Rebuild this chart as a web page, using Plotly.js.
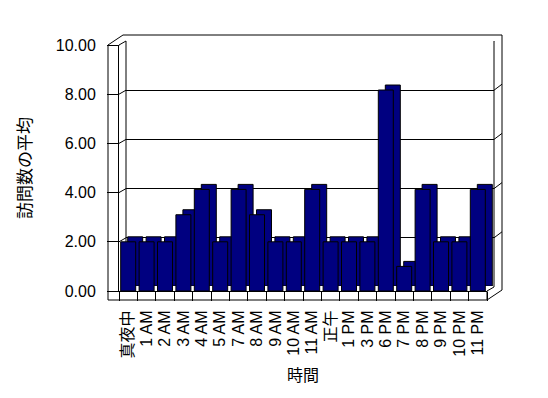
<!DOCTYPE html>
<html>
<head>
<meta charset="utf-8">
<script src="https://cdn.plot.ly/plotly-3.0.1.min.js"></script>
<style>html,body{margin:0;padding:0;background:#fff;}#chart{width:548px;height:398px;}</style>
</head>
<body>
<div id="chart"></div>
<script>
// ---- data ----
const categories = ['真夜中','1 AM','2 AM','3 AM','4 AM','5 AM','7 AM','8 AM','9 AM','10 AM','11 AM','正午','1 PM','3 PM','6 PM','7 PM','8 PM','9 PM','10 PM','11 PM'];
const avgVisits = [2,2,2,3.1,4.13,2,4.13,3.1,2,2,4.13,2,2,2,8.17,1,4.13,2,2,4.13];
const yTicks = [0,2,4,6,8,10];
const xTitle = '時間';
const yTitle = '訪問数の平均';

// ---- geometry helpers (pixels -> paper) ----
const W = 548, H = 398;
const fx = x => x / W;
const fy = y => 1 - y / H;
const FL = 119, FR = 487, FB = 291, FT = 45;          // front plane
const pxPerUnit = (FB - FT) / 10;
const GX = 7, GY = 4;                                   // back wall offset
const DX = 7, DY = 5;                                   // bar depth offset
const OX = 15, OY = 10;                                 // outer box depth
const FLOOR = 300, WALLL = 108;

const font = "'Liberation Sans', Arial, 'Noto Sans CJK JP', sans-serif";
const navy = '#000080';

const traces = [
  { // back wall grid subplot (no visible marks)
    type: 'scatter', mode: 'markers', x: categories, y: avgVisits,
    marker: {opacity: 0}, xaxis: 'x', yaxis: 'y', hoverinfo: 'skip', showlegend: false
  },
  { // bar depth (top & side faces)
    type: 'bar', x: categories, y: avgVisits, xaxis: 'x2', yaxis: 'y2',
    marker: {color: navy, line: {color: '#000', width: 1}}, showlegend: false
  },
  { // bar front faces
    type: 'bar', x: categories, y: avgVisits, xaxis: 'x3', yaxis: 'y3',
    marker: {color: navy, line: {color: '#000', width: 1}}, showlegend: false
  }
];

const hiddenX = {type: 'category', range: [-0.5, categories.length - 0.5], showgrid: false, zeroline: false, showline: false, showticklabels: false, ticks: ''};
const hiddenY = {range: [0, 10], showgrid: false, zeroline: false, showline: false, showticklabels: false, ticks: ''};

const shapes = [];
function line(x0, y0, x1, y1) {
  shapes.push({type: 'line', xref: 'paper', yref: 'paper', x0: fx(x0), y0: fy(y0), x1: fx(x1), y1: fy(y1), line: {color: '#000', width: 1}, layer: 'below'});
}
// left wall
line(WALLL, FT, WALLL, FLOOR);
line(WALLL, FT, WALLL + OX, FT - OY);
line(FL, FT, FL + GX, FT - GY);
line(WALLL + OX, FT - OY, FR + OX, FT - OY);
line(FL + GX, FT - GY, FL + GX, FB - GY);
// right side
line(FR + GX, FT - GY, FR + GX, FB - GY);
line(FR + OX, FT - OY, FR + OX, FB - 1);
// floor
line(WALLL, FLOOR, FR, FLOOR);
line(FR, FB, FR, FLOOR);
line(FR, FLOOR, FR + OX, FLOOR - OY);
line(FR, FB, FR + GX, FB - GY);
// tick-related diagonals
yTicks.forEach(v => {
  if (v > 0) {
    shapes.push({type: 'line', xref: 'paper', yref: 'y3', x0: fx(FL), x1: fx(FL + GX), y0: v, y1: v + GY / pxPerUnit, line: {color: '#000', width: 1}, layer: 'below'});
    shapes.push({type: 'line', xref: 'paper', yref: 'y', x0: fx(FR + GX), x1: fx(FR + OX), y0: v, y1: v + (OY - GY) / pxPerUnit, line: {color: '#000', width: 1}, layer: 'below'});
  }
});

const layout = {
  width: W, height: H,
  margin: {l: 0, r: 0, t: 0, b: 0},
  paper_bgcolor: '#fff', plot_bgcolor: 'rgba(0,0,0,0)',
  showlegend: false, hovermode: false,
  bargap: 0.185,
  font: {family: font, size: 16, color: '#000'},
  xaxis: Object.assign({}, hiddenX, {domain: [fx(FL + GX), fx(FR + GX)], anchor: 'y'}),
  yaxis: Object.assign({}, hiddenY, {domain: [fy(FB - GY), fy(FT - GY)], anchor: 'x', showgrid: true, gridcolor: '#000', gridwidth: 1, tickvals: yTicks}),
  xaxis2: Object.assign({}, hiddenX, {domain: [fx(FL + DX), fx(FR + DX)], anchor: 'y2'}),
  yaxis2: Object.assign({}, hiddenY, {domain: [fy(FB - DY), fy(FT - DY)], anchor: 'x2'}),
  xaxis3: {
    domain: [fx(FL), fx(FR)], anchor: 'y3', type: 'category', range: [-0.5, categories.length - 0.5],
    tickmode: 'linear', tick0: 0, dtick: 1,
    tickson: 'boundaries', ticks: 'outside', ticklen: FLOOR - FB, tickcolor: '#000', tickwidth: 1,
    showline: true, linecolor: '#000', linewidth: 1, showgrid: false, zeroline: false,
    tickangle: -90, tickfont: {family: font, size: 16, color: '#000'}, ticklabelstandoff: 12,
    title: {text: xTitle, font: {family: font, size: 16, color: '#000'}, standoff: 12}
  },
  yaxis3: {
    domain: [fy(FB), fy(FT)], anchor: 'x3', range: [0, 10], tickvals: yTicks, tickformat: '.2f',
    ticks: 'outside', ticklen: FL - WALLL, tickcolor: '#000', tickwidth: 1,
    showline: true, linecolor: '#000', linewidth: 1, showgrid: false, zeroline: false,
    tickfont: {family: font, size: 16, color: '#000'}, ticklabelstandoff: 8,
    title: {text: yTitle, font: {family: font, size: 17, color: '#000'}, standoff: 19}
  },
  shapes: shapes
};

Plotly.newPlot('chart', traces, layout, {staticPlot: true, displayModeBar: false});
</script>
</body>
</html>
